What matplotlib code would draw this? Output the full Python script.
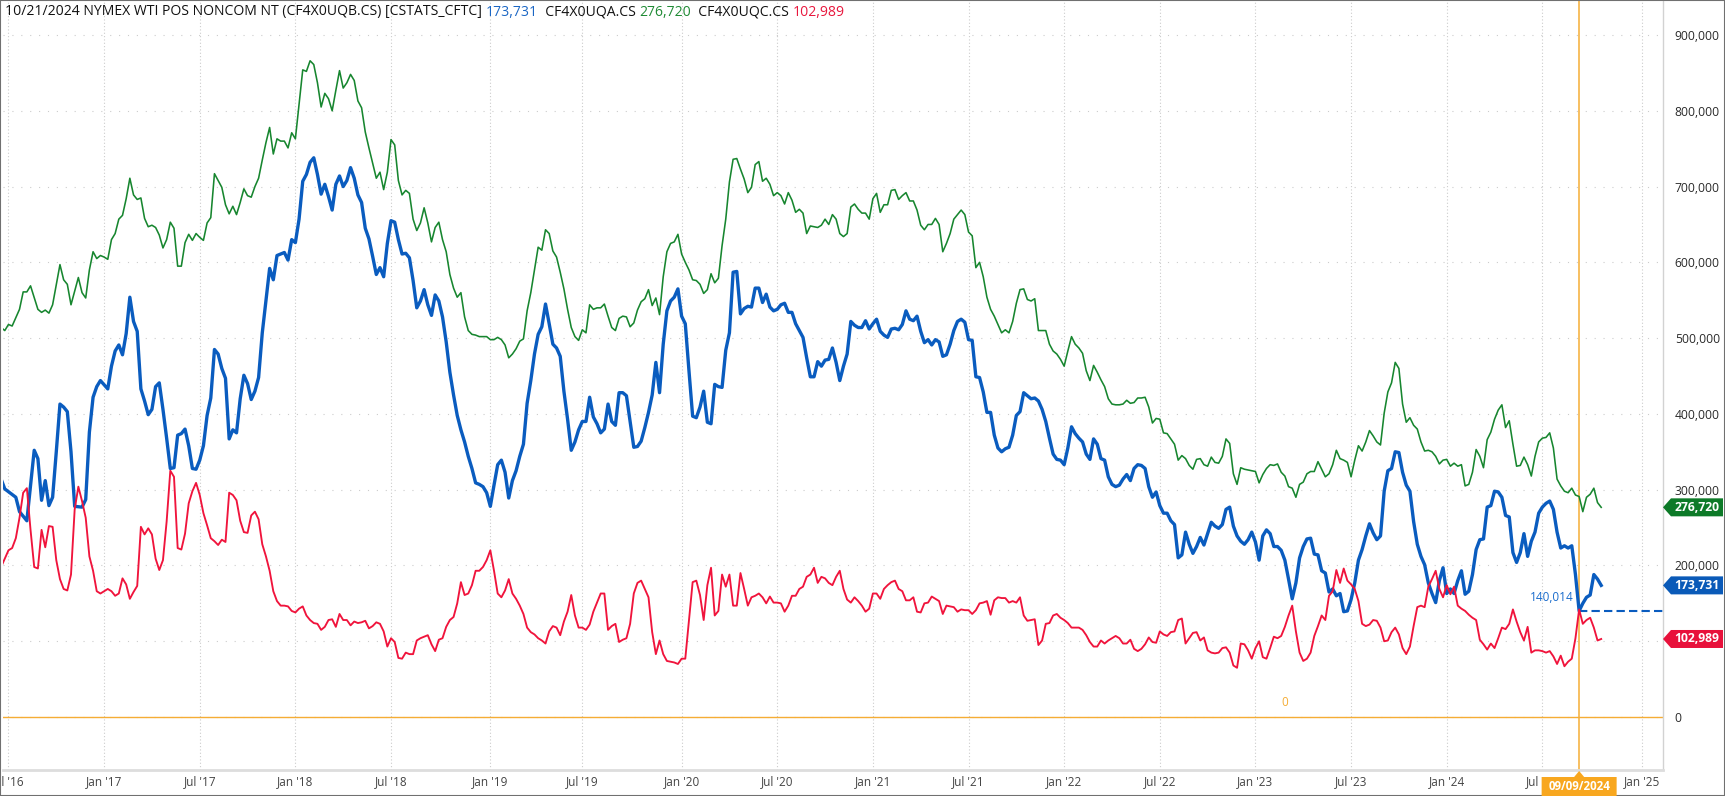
import numpy as np
import matplotlib
matplotlib.use('Agg')
import matplotlib.pyplot as plt
import matplotlib.ticker as mticker
import matplotlib.dates as mdates
from matplotlib.patches import Polygon, Rectangle
from matplotlib.transforms import IdentityTransform

plt.rcParams['font.family'] = ['Open Sans', 'DejaVu Sans']

# weekly CFTC reports, week 0 = 27 Jun 2016, values in thousands of contracts
first_week = np.datetime64('2016-06-27')

green_wk = [-1, 0, 1, 2, 4, 5, 6, 7, 9, 10, 11, 12, 13, 15, 16, 17, 18] + list(range(20, 435))
green_k = [
    514, 510, 518, 516, 538, 561, 561, 569, 538, 534, 537, 533, 544, 597, 577, 571, 544,
    580, 560, 553, 590, 614, 605, 609, 607, 604, 630,
    638, 657, 662, 684, 711, 689, 683, 685, 658, 647,
    649, 646, 636, 619, 630, 653, 645, 595, 595, 626,
    637, 629, 638, 633, 629, 652, 659, 717, 708, 699,
    676, 664, 674, 663, 679, 697, 688, 686, 700, 711, 735, 758,
    778, 743, 763, 760, 760, 751, 771, 763, 808, 854,
    852, 866, 861, 837, 805, 823, 816, 800, 827, 853,
    830, 837, 848, 840, 813, 804, 772, 751, 731, 711,
    719, 696, 719, 762, 755, 708, 689, 695, 691, 657,
    642, 652, 672, 652, 627, 646, 653, 630, 614, 584,
    566, 554, 560, 528, 510, 505, 504, 502, 502, 502,
    498, 498, 501, 498, 491, 474, 479, 486, 496, 499,
    536, 560, 590,
    620, 616, 643, 638, 615, 607, 587, 565, 538, 514,
    502, 497, 511, 507, 544, 538, 540, 540, 545, 529,
    514, 510, 526, 529, 528, 515, 520, 537, 548, 552,
    564, 543, 553, 531, 581, 614, 625, 627, 637, 611,
    600, 590, 577, 576, 571, 559, 564, 585, 573, 579,
    622, 657, 706, 736, 737, 723, 710, 692, 699, 729,
    733, 707, 711, 703, 688, 692, 688, 677, 692, 682,
    666, 670, 665, 638, 648, 647, 646,
    649, 657, 650, 663, 657, 638, 634, 638, 673, 677,
    670, 665, 665, 657, 684, 691, 666, 676, 676, 695,
    696, 683, 688, 692, 681, 681, 669, 649, 643, 650,
    650, 658, 650, 614, 625, 638, 657, 663, 669, 663,
    640, 635, 593, 600, 581, 554, 538, 529, 518, 507,
    511, 507, 522, 546, 564, 565, 551, 549, 552, 510,
    510, 510, 492, 483, 479, 472, 463, 483, 502, 492,
    487, 480, 457, 444, 464, 455, 445, 436, 420, 413,
    412, 412, 413, 418, 414, 415, 421, 421, 422, 409,
    388, 394, 393, 375, 374, 367, 360, 339, 345, 341,
    332, 327, 340, 341, 333, 331, 343, 336, 335, 344,
    367, 361, 321, 307, 329, 327, 326, 325, 324, 309,
    320, 328, 333, 332, 334, 323, 318, 304, 302, 290,
    307, 310, 321, 324, 324, 337, 327, 317, 321, 333,
    352, 341, 339, 336,
    317, 339, 358, 351, 363, 378, 371, 363, 359, 401,
    429, 441, 468, 460, 413, 389, 395, 385, 380, 363,
    351, 352, 350, 344, 334, 339, 340, 331, 335, 331,
    333, 305, 307, 323, 353, 344, 329, 366, 376, 393,
    405, 412, 382, 391, 360, 331, 332, 343, 333, 318,
    344, 363, 368, 369, 375, 355, 314, 305, 298, 296,
    302, 293, 291, 271, 290, 294, 302, 283, 276.720,
]

blue_wk = [-1, 0, 3, 4, 6, 8, 9, 10, 11, 12, 13, 14, 15, 16, 17, 18, 19,
           21, 22, 23, 24, 25, 26, 28] + list(range(29, 435))
blue_k = [
    314, 301, 290, 271, 259, 352, 341, 286, 312, 279, 290, 350, 413, 409, 403, 350, 278,
    277, 287, 376, 422, 436, 444, 433,
    463, 483, 491, 478, 506, 554, 522, 509, 433, 417,
    399, 406, 436, 441, 406, 368, 328, 329, 372, 374,
    380, 358, 328, 327, 339, 358, 398, 421, 485, 479,
    460, 447, 367, 379, 375, 420, 451, 440, 419, 430,
    448, 507, 549,
    592, 577, 609, 611, 613, 603, 630, 626, 657, 707,
    716, 732, 738, 716, 690, 703, 687, 669, 703, 714,
    700, 708, 725, 711, 689, 679, 645, 631, 608, 584,
    593, 581, 625, 655, 653, 630, 611, 612, 606, 576,
    540, 549, 564, 544, 530, 557, 549, 528, 495, 455,
    425, 398, 379, 363, 344, 328, 309, 307, 304, 296,
    278, 306, 333, 339, 323, 289, 312, 325, 344, 360,
    414, 444, 479,
    505, 515, 545, 519, 492, 487, 476, 430, 393, 352,
    363, 379, 390, 390, 422, 396, 387, 375, 380, 413,
    390, 385, 428, 428, 424, 390, 356, 357, 364, 382,
    402, 425, 468, 428, 492, 536, 549, 554, 565, 529,
    519, 457, 397, 395, 409, 430, 389, 387, 439, 436,
    435, 484, 507, 587, 588, 532, 539, 542, 541, 566,
    566, 547, 558, 541, 536, 538, 544, 546, 534, 534,
    519, 510, 501, 474,
    449, 449, 469, 463, 471, 472, 487, 468, 444, 463,
    479, 522, 517, 514, 514, 523, 512, 519, 525, 509,
    504, 501, 512, 513, 511, 518, 536, 525, 523, 529,
    509, 494, 498, 491, 498, 495, 476, 478, 492, 510,
    522, 525, 521, 498, 497, 449, 448, 429, 402, 402,
    372, 355, 350, 354, 356, 372, 398, 403, 428, 424,
    420, 421, 417, 406, 390, 368, 347, 340, 339, 333,
    355, 383, 374,
    368, 363, 347, 340, 367, 360, 341, 339, 317, 307,
    304, 306, 314, 320, 312, 328, 333, 332, 328, 304,
    290, 297, 279, 269, 269, 259, 254, 210, 214, 244,
    228, 216, 225, 237, 227, 242, 257, 252, 249, 254,
    274, 277, 252, 239, 232, 228, 234, 244, 231, 207,
    239, 247, 242, 225, 225, 220, 207, 182, 156, 177,
    210, 225, 235, 236, 215, 214, 193, 190, 165, 169,
    160, 163, 139, 140,
    155,
    177, 207, 221, 239, 255, 243, 234, 239, 298, 325,
    328, 350, 349, 323, 306, 298, 258, 228, 212, 201,
    177, 163, 151, 180, 197, 163, 169, 163, 180, 193,
    162, 166, 188, 221, 234, 235, 277, 279, 298, 297,
    290, 266, 264, 217, 204, 217, 242, 212, 232, 244,
    269, 277, 282, 285, 274, 244, 223, 226, 223, 226,
    188, 140.014, 150, 158, 161, 188, 182, 173.731,
]

red_wk = list(range(-1, 435))
red_k = [
    198, 209, 220, 223, 236, 263, 296, 302, 247, 198,
    196, 247, 224, 252, 251, 207, 182, 169, 167, 188,
    274, 304, 285, 263, 212, 193, 166, 163, 166, 169,
    166, 160, 163, 183, 175, 156, 165, 173, 251, 241,
    249, 241, 209, 194, 207, 258, 325, 317, 223, 221,
    242, 282, 298, 309, 293, 269, 253, 236, 232, 227,
    234, 231, 296, 293, 286, 259, 244, 243, 266, 271,
    261, 228, 212,
    193, 166, 153, 147, 147, 146, 140, 138, 143, 146,
    134, 128, 124, 123, 115, 119, 128, 129, 119, 136,
    128, 128, 121, 126, 124, 125, 127, 117, 120, 125,
    123, 113, 93, 104, 99, 78, 77, 85, 83, 83,
    101, 104, 106, 108, 96, 87, 102, 104, 119, 128,
    132, 150, 178, 161, 163, 174, 193, 193, 198, 207,
    220, 193, 163, 158, 167, 182, 163, 156, 147, 136,
    118, 112, 109,
    104, 101, 97, 113, 120, 118, 108, 126, 139, 161,
    134, 118, 118, 115, 122, 139, 151, 163, 163, 115,
    120, 123, 99, 102, 104, 123, 163, 177, 180, 169,
    158, 112, 83, 101, 83, 74, 73, 72, 70, 77,
    77, 128, 178, 180, 161, 128, 174, 197, 134, 140,
    188, 172, 188, 147, 147, 190, 169, 147, 158, 160,
    163, 158, 150, 159, 151, 151, 150, 139, 147, 160,
    160, 169, 172, 185,
    188, 197, 177, 185, 183, 177, 174, 185, 193, 169,
    155, 151, 158, 153, 147, 139, 143, 163, 163, 156,
    169, 174, 178, 180, 169, 166, 154, 154, 158, 139,
    138, 150, 151, 159, 156, 153, 136, 147, 146, 145,
    139, 142, 141, 141, 136, 141, 150, 151, 153, 135,
    154, 158, 157, 157, 151, 153, 151, 158, 134, 127,
    128, 129, 95, 101, 123, 124, 134, 136, 131, 128,
    124, 118, 118,
    118, 115, 108, 99, 93, 93, 101, 97, 101, 104,
    107, 104, 97, 97, 102, 90, 87, 90, 96, 105,
    99, 98, 113, 109, 107, 112, 113, 128, 130, 97,
    104, 111, 112, 101, 105, 88, 85, 84, 85, 91,
    92, 85, 68, 65, 97, 96, 88, 77, 91, 100,
    79, 77, 91, 106, 104, 107, 119, 134, 147, 113,
    85, 74, 77, 85, 107, 120, 134, 128, 160, 166,
    194, 177, 196, 180,
    175,
    169, 153, 123, 120, 122, 128, 127, 118, 100, 101,
    112, 118, 109, 91, 83, 93, 120, 145, 147, 145,
    172, 182, 193, 169, 158, 174, 162, 172, 147, 143,
    140, 135, 131, 128, 102, 96, 89, 97, 91, 104,
    118, 116, 123, 142, 126, 112, 101, 119, 85, 88,
    88, 87, 85, 87, 80, 70, 81, 67, 73, 77,
    104, 142, 123, 128, 131, 118, 101, 102.989,
]

assert len(green_wk) == len(green_k)
assert len(blue_wk) == len(blue_k)
assert len(red_wk) == len(red_k)

cross_wk = 428          # 09/09/2024 report
y_ticks = list(range(0, 900001, 100000))

c_blue, c_green, c_red = '#0a5cbf', '#17862f', '#f0143c'
orange = '#f5ad35'


def to_dates(wk):
    return first_week + np.array(wk) * np.timedelta64(7, 'D')


W, H = 1725, 796
fig = plt.figure(figsize=(W / 100, H / 100), dpi=100)
ax = fig.add_axes([3 / W, 26 / H, 1660 / W, 770 / H])

ax.plot(to_dates(green_wk), np.array(green_k) * 1000, color=c_green, lw=1.15, zorder=3)
ax.plot(to_dates(blue_wk), np.array(blue_k) * 1000, color=c_blue, lw=2.4, zorder=3,
        solid_joinstyle='round')
ax.plot(to_dates(red_wk), np.array(red_k) * 1000, color=c_red, lw=1.35, zorder=4)

x0 = mdates.date2num(first_week)
ax.set_xlim(x0 - 3.4, x0 + 3155.6)
ax.set_ylim(-69900, 946200)

# ticks on the first weekly report of each January / July
ticks, labels = [], []
for y in range(2016, 2026):
    for m, name in ((1, 'Jan'), (7, 'Jul')):
        d = np.datetime64(f'{y}-{m:02d}-01')
        off = (-((d - first_week).astype(int))) % 7
        d = d + np.timedelta64(int(off), 'D')
        if np.datetime64('2016-06-01') < d < np.datetime64('2025-02-01'):
            ticks.append(mdates.date2num(d))
            labels.append(f"{name} '{y % 100:02d}")
ax.set_xticks(ticks)
ax.set_xticklabels(labels)
ax.set_yticks(y_ticks)
ax.yaxis.set_major_formatter(mticker.FuncFormatter(lambda v, p: f'{v:,.0f}'))
ax.yaxis.tick_right()
ax.tick_params(axis='y', length=0, pad=8.5, labelsize=8.7, labelcolor='#2a2a2a')
ax.tick_params(axis='x', length=0, pad=4, labelsize=8.5, labelcolor='#444444')

ax.set_axisbelow(True)
ax.grid(axis='x', color='#cccccc', linestyle=(0, (1, 2)), lw=0.8)
ax.grid(axis='y', color='#cccccc', linestyle=(0, (1, 7)), lw=0.8)
for s in ('left', 'top'):
    ax.spines[s].set_visible(False)
ax.spines['right'].set_color('#d2d2d2')
ax.spines['right'].set_linewidth(1.0)
ax.spines['bottom'].set_color('#dddddd')
ax.spines['bottom'].set_linewidth(2.0)

# zero line and crosshair
cross_date = to_dates([cross_wk])[0]
cross_val = blue_k[blue_wk.index(cross_wk)] * 1000
ax.axhline(0, color=orange, lw=1.0, zorder=2)
ax.annotate('0', xy=(0.772, 0), xycoords=('axes fraction', 'data'), xytext=(0, 15),
            textcoords='offset pixels', color=orange, ha='center', va='center', fontsize=8.5)
ax.axvline(cross_date, color=orange, lw=1.1, zorder=2)
ax.hlines(cross_val, cross_date, mdates.num2date(ax.get_xlim()[1]), color=c_blue,
          lw=1.5, linestyle=(0, (4, 2)), zorder=3)
ax.annotate(f'{cross_val:,.0f}', xy=(cross_date, cross_val), xytext=(-5, 13),
            textcoords='offset pixels', color='#1a6ccc', ha='right', va='center', fontsize=8.5)

ident = IdentityTransform()
xr = ax.transAxes.transform((1, 0))[0]


def value_tag(value, color):
    yp = ax.transData.transform((0, value))[1]
    pts = [(xr, yp), (xr + 8, yp + 9), (xr + 60, yp + 9), (xr + 60, yp - 9), (xr + 8, yp - 9)]
    fig.add_artist(Polygon(pts, closed=True, transform=ident, fc=color, ec='none', zorder=6))
    fig.text(xr + 34, yp, f'{value:,.0f}', transform=ident, color='white', fontsize=8.7,
             fontweight='bold', ha='center', va='center', zorder=7)


value_tag(green_k[-1] * 1000, '#0d7a28')
value_tag(blue_k[-1] * 1000, '#0a5ab8')
value_tag(red_k[-1] * 1000, '#e8113b')

# date tag under the crosshair
xc = ax.transData.transform((mdates.date2num(cross_date), 0))[0]
box = [(xc - 37.5, 0), (xc - 37.5, 19), (xc - 5, 19), (xc, 25), (xc + 5, 19),
       (xc + 37.5, 19), (xc + 37.5, 0)]
fig.add_artist(Polygon(box, closed=True, transform=ident, fc='#f8a71f', ec='none', zorder=6))
fig.text(xc, 9.5, str(cross_date.astype('datetime64[D]').item().strftime('%m/%d/%Y')),
         transform=ident, color='white', fontsize=8.3, fontweight='bold',
         ha='center', va='center', zorder=7)

# header with coloured last values
header = [
    ('10/21/2024 NYMEX WTI POS NONCOM NT (CF4X0UQB.CS) [CSTATS_CFTC] ', '#111111'),
    (f'{blue_k[-1] * 1000:,.0f}', '#1a66c4'),
    ('  CF4X0UQA.CS ', '#111111'),
    (f'{green_k[-1] * 1000:,.0f}', '#1f8a34'),
    ('  CF4X0UQC.CS ', '#111111'),
    (f'{red_k[-1] * 1000:,.0f}', '#e8173d'),
]
renderer = fig.canvas.get_renderer()
xh = 5
for s, c in header:
    t = fig.text(xh, H - 12, s, transform=ident, color=c, fontsize=10.1, ha='left', va='center')
    xh = t.get_window_extent(renderer).x1

fig.add_artist(Rectangle((0, 0), 1, 1, transform=fig.transFigure, fill=False,
                         ec='#707070', lw=1.5))

fig.savefig('out.png', dpi=100)
